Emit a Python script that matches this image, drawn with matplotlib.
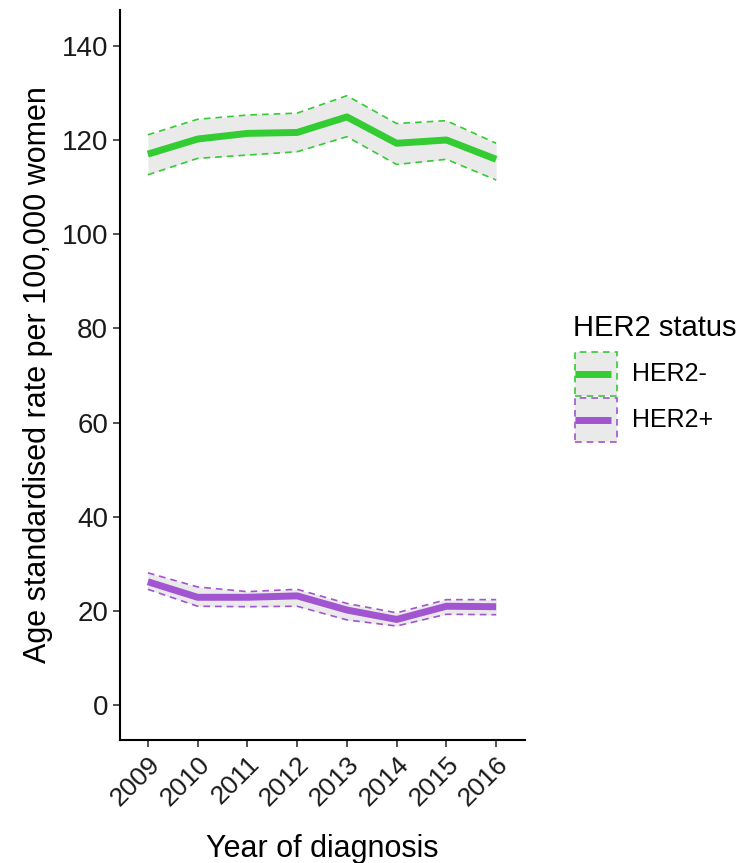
import numpy as np
import matplotlib
matplotlib.use('Agg')
from matplotlib import pyplot as plt
from matplotlib.patches import Rectangle
from matplotlib.lines import Line2D

plt.rcParams['font.family'] = ['Liberation Sans', 'DejaVu Sans']

years = [2009, 2010, 2011, 2012, 2013, 2014, 2015, 2016]
# HER2 negative: rate and 95% CI
neg_rate = [117.0, 120.2, 121.4, 121.6, 124.9, 119.3, 120.0, 115.9]
neg_low = [112.6, 116.1, 116.8, 117.5, 120.7, 114.8, 115.9, 111.5]
neg_high = [121.1, 124.4, 125.3, 125.7, 129.4, 123.5, 124.1, 119.3]
# HER2 positive
pos_rate = [26.2, 22.9, 22.9, 23.2, 20.2, 18.2, 21.0, 20.9]
pos_low = [24.6, 21.0, 20.9, 21.0, 18.1, 16.8, 19.3, 19.2]
pos_high = [28.1, 25.1, 24.1, 24.6, 21.6, 19.6, 22.4, 22.4]

groups = ['HER2-', 'HER2+']
colours = ['#33CC33', '#A155D0']
ribbon = '#EAEAEA'

W, H = 742, 863
fig = plt.figure(figsize=(W/100, H/100), dpi=100)
ax = fig.add_axes([120/W, 1-740/H, 405/W, 730/H])

series = [(neg_rate, neg_low, neg_high), (pos_rate, pos_low, pos_high)]
for (rate, low, high), col in zip(series, colours):
    ax.fill_between(years, low, high, color=ribbon, lw=0, zorder=1)
    ax.plot(years, low, color=col, lw=1.2, ls=(0, (4, 3)), zorder=2)
    ax.plot(years, high, color=col, lw=1.2, ls=(0, (4, 3)), zorder=2)
    ax.plot(years, rate, color=col, lw=5, zorder=3, solid_capstyle='butt')

ax.set_xlim(2008.44, 2016.58)
ax.set_ylim(-7.4, 147.6)
ax.set_yticks(np.arange(0, 141, 20))
ax.set_xticks(years)
ax.set_xticklabels([str(y) for y in years], rotation=45, ha='right',
                   rotation_mode='anchor', fontsize=19)
ax.tick_params(axis='y', labelsize=20)
ax.tick_params(length=5, width=1.2, color='#333333', labelcolor='#1a1a1a')
for s in ['top', 'right']:
    ax.spines[s].set_visible(False)
for s in ['left', 'bottom']:
    ax.spines[s].set_linewidth(1.5)

ax.set_xlabel('Year of diagnosis', fontsize=22, labelpad=17)
ax.set_ylabel('Age standardised rate per 100,000 women', fontsize=22, labelpad=6)

# legend drawn by hand (ggplot style keys: ribbon box + line)
fig.text(573/W, 1-328/H, 'HER2 status', fontsize=21, ha='left', va='center')
key_w, key_h = 42/W, 44/H
for i, (name, col) in enumerate(zip(groups, colours)):
    top = 352 + i*46
    y0 = 1 - (top + 44)/H
    fig.add_artist(Rectangle((575/W, y0), key_w, key_h, transform=fig.transFigure,
                             facecolor=ribbon, edgecolor=col, lw=1.2,
                             linestyle=(0, (4, 3))))
    yc = y0 + key_h/2
    fig.add_artist(Line2D([575/W, 611/W], [yc, yc], transform=fig.transFigure,
                          color=col, lw=5, solid_capstyle='butt'))
    fig.text(632/W, yc, name, fontsize=18, ha='left', va='center')

fig.savefig('out.png', dpi=100)
